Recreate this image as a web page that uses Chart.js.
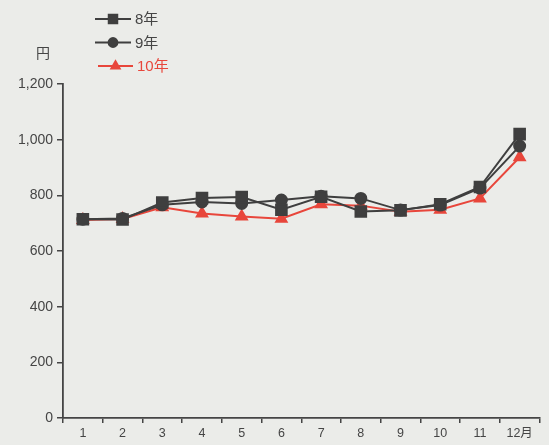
<!DOCTYPE html>
<html>
<head>
<meta charset="utf-8">
<script src="https://cdn.jsdelivr.net/npm/chart.js@4/dist/chart.umd.min.js"></script>
<style>
  html, body { margin: 0; padding: 0; background: #ebece9; }
  #wrap { width: 549px; height: 445px; position: relative; }
</style>
</head>
<body>
<div id="wrap"><canvas id="chart"></canvas></div>
<script>
// months along the bottom
const months = ['1', '2', '3', '4', '5', '6', '7', '8', '9', '10', '11', '12月'];
const seriesNames = ['8年', '9年', '10年'];

// yen
const year8 = [714, 713, 774, 790, 794, 748, 795, 742, 746, 768, 830, 1020];
const year9 = [714, 717, 766, 776, 771, 783, 797, 789, 747, 765, 826, 977];
const year10 = [711, 715, 757, 735, 724, 716, 768, 763, 741, 748, 789, 937];

const yTicks = [0, 200, 400, 600, 800, 1000, 1200];

const FONT = "'Liberation Sans', 'Noto Sans CJK JP', sans-serif";
const INK = '#454545';
const DARK = '#3f3f3f';
const RED = '#e8463b';

// legend drawn as line + marker, like the print
const legendPlugin = {
  id: 'printLegend',
  afterDraw(chart) {
    const ctx = chart.ctx;
    ctx.save();
    ctx.font = '15px ' + FONT;
    ctx.textBaseline = 'middle';
    ctx.textAlign = 'left';
    chart.data.datasets.forEach((ds, i) => {
      const y = 19 + i * 23.5;
      const x0 = 95 + (i === 2 ? 3 : 0), x1 = 131 + (i === 2 ? 2 : 0);
      ctx.strokeStyle = ds.borderColor;
      ctx.lineWidth = 2;
      ctx.beginPath();
      ctx.moveTo(x0, y);
      ctx.lineTo(x1, y);
      ctx.stroke();
      ctx.fillStyle = ds.pointBackgroundColor;
      Chart.helpers.drawPoint(ctx, {
        pointStyle: ds.pointStyle,
        radius: ds.pointRadius * 0.8,
        borderWidth: 1
      }, (x0 + x1) / 2, y);
      ctx.fillStyle = i === 2 ? RED : INK;
      ctx.fillText(ds.label, 135 + (i === 2 ? 2 : 0), y + 1);
    });
    ctx.fillStyle = INK;
    ctx.font = '14px ' + FONT;
    ctx.textAlign = 'center';
    ctx.fillText('円', 43, 54);
    ctx.restore();
  }
};

const ctx = document.getElementById('chart').getContext('2d');
new Chart(ctx, {
  type: 'line',
  data: {
    labels: months,
    datasets: [
      {
        label: seriesNames[0],
        data: year8,
        borderColor: DARK,
        backgroundColor: DARK,
        pointBackgroundColor: DARK,
        pointBorderColor: DARK,
        pointStyle: 'rect',
        pointRadius: 7.5,
        borderWidth: 2
      },
      {
        label: seriesNames[1],
        data: year9,
        borderColor: DARK,
        backgroundColor: DARK,
        pointBackgroundColor: DARK,
        pointBorderColor: DARK,
        pointStyle: 'circle',
        pointRadius: 5.5,
        borderWidth: 2
      },
      {
        label: seriesNames[2],
        data: year10,
        borderColor: RED,
        backgroundColor: RED,
        pointBackgroundColor: RED,
        pointBorderColor: RED,
        pointStyle: 'triangle',
        pointRadius: 6,
        borderWidth: 2
      }
    ]
  },
  options: {
    responsive: true,
    maintainAspectRatio: false,
    animation: false,
    layout: { padding: { top: 84, right: 2, left: 0, bottom: 0 } },
    plugins: {
      legend: { display: false },
      tooltip: { enabled: false }
    },
    scales: {
      x: {
        offset: true,
        afterFit: (s) => { s.height = 27; },
        grid: {
          offset: true,
          drawOnChartArea: false,
          drawTicks: true,
          tickLength: 5,
          color: INK,
          lineWidth: 1.5
        },
        border: { display: true, color: INK, width: 1.8 },
        ticks: {
          color: INK,
          padding: 3,
          maxRotation: 0,
          autoSkip: false,
          font: { family: FONT, size: 12.5 }
        }
      },
      y: {
        min: 0,
        max: 1200,
        afterFit: (s) => { s.width = 63; },
        afterBuildTicks: (s) => { s.ticks = yTicks.map(v => ({ value: v })); },
        grid: {
          drawOnChartArea: false,
          drawTicks: true,
          tickLength: 6,
          color: INK,
          lineWidth: 1.5
        },
        border: { display: true, color: INK, width: 1.8 },
        ticks: {
          color: INK,
          padding: 4,
          font: { family: FONT, size: 14 },
          callback: (v) => v.toLocaleString('en-US')
        }
      }
    }
  },
  plugins: [legendPlugin]
});
</script>
</body>
</html>
